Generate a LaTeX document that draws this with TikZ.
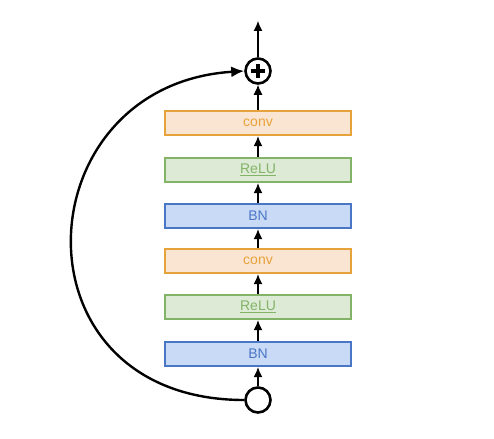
\documentclass[tikz,border=0pt]{standalone}
\usepackage{fontspec}
\setmainfont{Liberation Sans}
\usetikzlibrary{arrows.meta}
\definecolor{ofill}{HTML}{F9E5D1}
\definecolor{odraw}{HTML}{E8A23A}
\definecolor{gfill}{HTML}{DDEBD6}
\definecolor{gdraw}{HTML}{82B366}
\definecolor{bfill}{HTML}{C9DAF6}
\definecolor{bdraw}{HTML}{4A76C6}
\tikzset{
  layer/.style={draw, line width=2.4pt, minimum width=186pt, minimum height=24pt, inner sep=0pt, font=\fontsize{14}{16}\selectfont},
  convbox/.style={layer, fill=ofill, draw=odraw, text=odraw},
  relubox/.style={layer, fill=gfill, draw=gdraw, text=gdraw},
  bnbox/.style={layer, fill=bfill, draw=bdraw, text=bdraw},
  ring/.style={circle, draw, line width=2.6pt, minimum size=25pt, inner sep=0pt},
  flow/.style={-{Latex[length=10pt,width=9pt]}, line width=1.1pt},
}
\begin{document}
\begin{tikzpicture}[x=1pt,y=-1pt]
\useasboundingbox (0,0) rectangle (494,438);
\node[ring] (in) at (258,400) {};
\node[bnbox] (bn1) at (258,354) {BN};
\node[relubox] (relu1) at (258,307) {\underline{ReLU}};
\node[convbox] (conv1) at (258,261) {conv};
\node[bnbox] (bn2) at (258,216) {BN};
\node[relubox] (relu2) at (258,170) {\underline{ReLU}};
\node[convbox] (conv2) at (258,123) {conv};
\node[ring] (add) at (258,71) {};
\draw[line width=3.2pt] (251,71) -- (265,71) (258,64) -- (258,78);
\coordinate (out) at (258,21);
\draw[flow] (in) -- (bn1);
\draw[flow] (bn1) -- (relu1);
\draw[flow] (relu1) -- (conv1);
\draw[flow] (conv1) -- (bn2);
\draw[flow] (bn2) -- (relu2);
\draw[flow] (relu2) -- (conv2);
\draw[flow] (conv2) -- (add);
\draw[flow] (add) -- (out);
\draw[-{Latex[length=13pt,width=11pt]}, line width=2.4pt] (in.west) .. controls (8,400) and (22,85) .. (add.west);
\end{tikzpicture}
\end{document}
